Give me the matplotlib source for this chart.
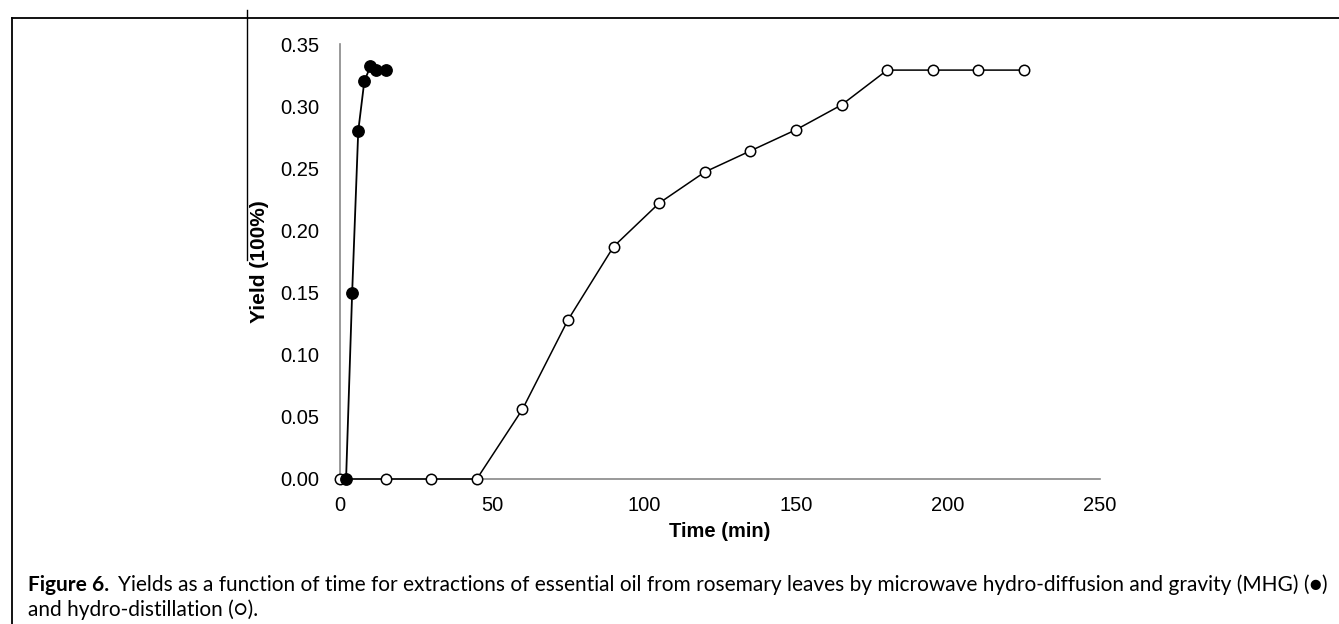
import matplotlib
matplotlib.use("Agg")
import matplotlib.pyplot as plt
from matplotlib.lines import Line2D

# data
mhg_time = [2, 4, 6, 8, 10, 12, 15]
mhg_yield = [0.0, 0.150, 0.280, 0.320, 0.332, 0.329, 0.329]

hd_time = [0, 15, 30, 45, 60, 75, 90, 105, 120, 135, 150, 165, 180, 195, 210, 225]
hd_yield = [0.0, 0.0, 0.0, 0.0, 0.056, 0.128, 0.187, 0.222, 0.247, 0.264, 0.281,
            0.301, 0.329, 0.329, 0.329, 0.329]

x_ticks = [0, 50, 100, 150, 200, 250]
y_ticks = [0.00, 0.05, 0.10, 0.15, 0.20, 0.25, 0.30, 0.35]

fig = plt.figure(figsize=(13.39, 6.24), dpi=100)
ax = fig.add_axes([340/1339, 1 - 479/624, 760/1339, 435/624])

ax.plot(hd_time, hd_yield, color='black', lw=1.1, marker='o', ms=7.5,
        mfc='white', mec='black', mew=1.1, clip_on=False, zorder=3)
ax.plot(mhg_time, mhg_yield, color='black', lw=1.3, marker='o', ms=8.2,
        mfc='black', mec='black', clip_on=False, zorder=4)

ax.set_xlim(0, 250)
ax.set_ylim(0, 0.35)
ax.set_xticks(x_ticks)
ax.set_yticks(y_ticks)
ax.set_xticklabels([str(t) for t in x_ticks], fontsize=14.5, family='Liberation Sans')
ax.set_yticklabels([f"{t:.2f}" for t in y_ticks], fontsize=14.5, family='Liberation Sans')
ax.tick_params(axis='y', length=0, pad=15)
ax.tick_params(axis='x', length=0, pad=12)

for s in ['top', 'right']:
    ax.spines[s].set_visible(False)
for s in ['left', 'bottom']:
    ax.spines[s].set_color('#888888')
    ax.spines[s].set_linewidth(1.2)

ax.set_xlabel("Time (min)", fontsize=14.5, fontweight='bold', family='Liberation Sans', labelpad=5)
ax.set_ylabel("Yield (100%)", fontsize=15, fontweight='bold', family='Liberation Sans', labelpad=8)

# page frame lines
fig.add_artist(Line2D([12/1339, 1], [1 - 18/624, 1 - 18/624], color='black', lw=1.3,
                      transform=fig.transFigure))
fig.add_artist(Line2D([12/1339, 12/1339], [0, 1 - 18/624], color='black', lw=1.3,
                      transform=fig.transFigure))
fig.add_artist(Line2D([247/1339, 247/1339], [1 - 10/624, 1 - 260/624], color='black', lw=1.0,
                      transform=fig.transFigure))

# caption
cap_font = ['Lato', 'DejaVu Sans']
cap_size = 15
t1 = fig.text(28/1339, 1 - 585/624, "Figure 6.", fontsize=cap_size, fontweight='bold',
              family=cap_font, va='center', ha='left')
fig.canvas.draw()
bb = t1.get_window_extent()
fig.text((bb.x1 + 9)/1339, 1 - 585/624,
         "Yields as a function of time for extractions of essential oil from rosemary leaves "
         "by microwave hydro-diffusion and gravity (MHG) (\u25cf)",
         fontsize=cap_size, family=cap_font, va='center', ha='left')
fig.text(28/1339, 1 - 610/624, "and hydro-distillation (\u25cb).", fontsize=cap_size,
         family=cap_font, va='center', ha='left')

fig.savefig("out.png", dpi=100)
